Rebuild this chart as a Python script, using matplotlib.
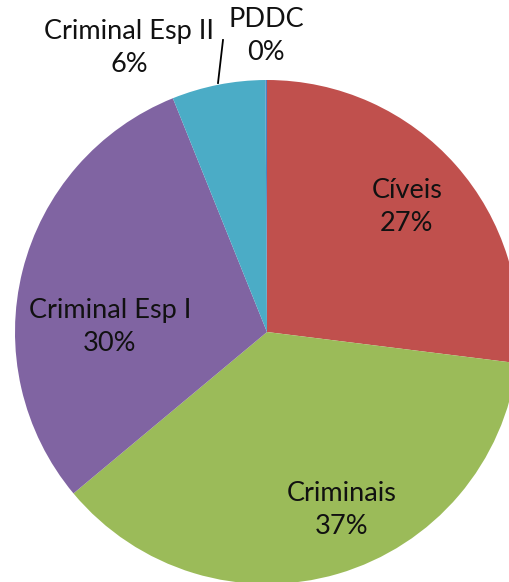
import matplotlib.pyplot as plt

categories = ["Cíveis", "Criminais", "Criminal Esp I", "Criminal Esp II", "PDDC"]
values = [27, 37, 30, 6, 0.1]
pct_labels = ["27%", "37%", "30%", "6%", "0%"]
colors = ["#C0504D", "#9BBB59", "#8064A2", "#4BACC6", "#4F81BD"]

# label centres in pixel coords (x, y from top)
label_pos = [(407, 207), (342, 510), (110, 327), (129, 48), (266, 36)]

W, H = 510, 582
fig = plt.figure(figsize=(W / 100, H / 100), dpi=100)
ax = fig.add_axes([0, 0, 1, 1])

cx, cy, r = 267, H - 332, 252
ax.pie(values, colors=colors, startangle=90, counterclock=False,
       center=(cx, cy), radius=r, frame=True,
       wedgeprops=dict(linewidth=0))
ax.set_xlim(0, W)
ax.set_ylim(0, H)
ax.set_aspect("equal")
ax.axis("off")

for name, pct, (x, y) in zip(categories, pct_labels, label_pos):
    ax.text(x, H - y, name + "\n" + pct, ha="center", va="center",
            fontsize=19.5, family="Lato", linespacing=1.38, color="#111111")

# leader line for Criminal Esp II
ax.plot([218, 223], [H - 83, H - 40], color="black", lw=1.3)

fig.savefig("out.png", dpi=100)
